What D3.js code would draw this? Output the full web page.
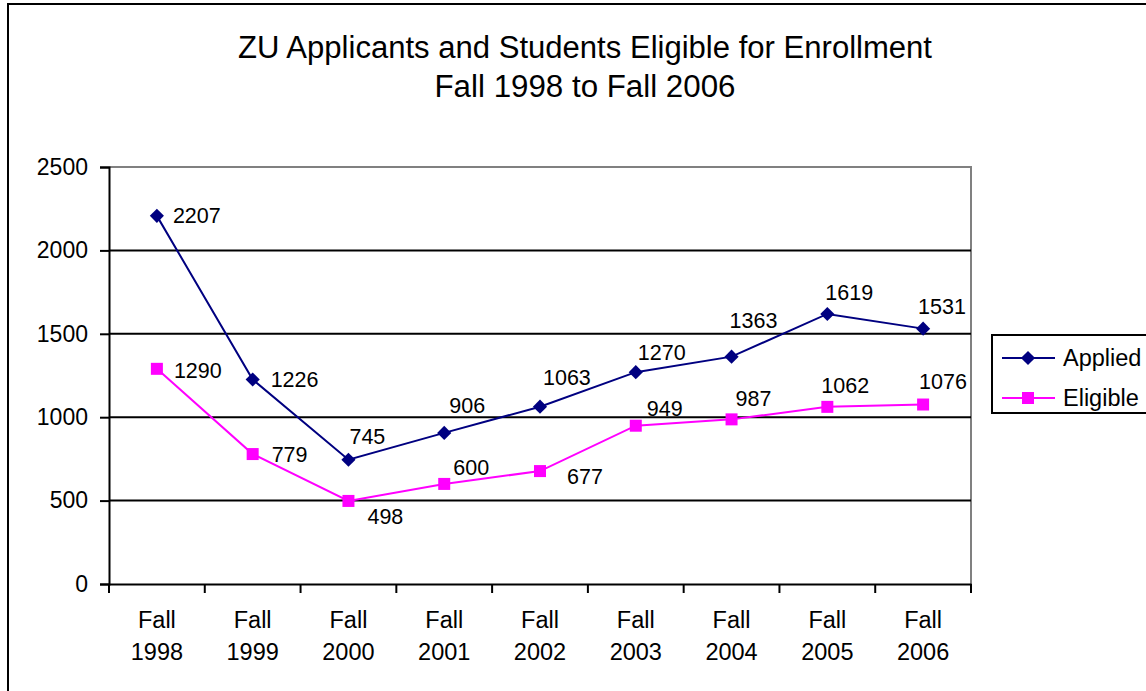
<!DOCTYPE html>
<html>
<head>
<meta charset="utf-8">
<script src="https://cdn.jsdelivr.net/npm/d3@7"></script>
<style>
  body { margin: 0; background: #fff; }
  svg { display: block; font-family: "Liberation Sans", Arial, sans-serif; }
</style>
</head>
<body>
<svg id="chart" width="1146" height="691"></svg>
<script>
// chart data
const categories = ["Fall 1998", "Fall 1999", "Fall 2000", "Fall 2001", "Fall 2002",
                    "Fall 2003", "Fall 2004", "Fall 2005", "Fall 2006"];
const applied = [2207, 1226, 745, 906, 1063, 1270, 1363, 1619, 1531];
const eligible = [1290, 779, 498, 600, 677, 949, 987, 1062, 1076];
const yTicks = [0, 500, 1000, 1500, 2000, 2500];
const seriesNames = ["Applied", "Eligible"];

// where each data label sits relative to its marker (text start, text middle)
const appliedLabelOffsets = [[16, 0], [18, 0], [1, -23], [5, -27], [3, -29], [2, -20], [-2, -36], [-2, -21], [-5, -22]];
const eligibleLabelOffsets = [[17, 2], [19, 0], [19, 16], [9, -16], [27, 5], [11, -17], [4, -21], [-6, -21], [-4, -23]];

const svg = d3.select("#chart");
const plot = {left: 109, right: 971, top: 167, bottom: 584};

// outer frame
svg.append("rect")
    .attr("x", 8).attr("y", 4)
    .attr("width", 1160).attr("height", 700)
    .attr("fill", "none").attr("stroke", "#000").attr("stroke-width", 2);

// title
const title = svg.append("g").attr("font-size", 31).attr("text-anchor", "middle");
title.append("text").attr("x", 585).attr("y", 58)
    .attr("textLength", 694).attr("lengthAdjust", "spacingAndGlyphs")
    .text("ZU Applicants and Students Eligible for Enrollment");
title.append("text").attr("x", 585).attr("y", 97)
    .attr("textLength", 301).attr("lengthAdjust", "spacingAndGlyphs")
    .text("Fall 1998 to Fall 2006");

// scales
const x = d3.scaleBand().domain(categories).range([plot.left, plot.right]).padding(0);
const y = d3.scaleLinear().domain([0, 2500]).range([plot.bottom, plot.top]);
const cx = (d, i) => x(categories[i]) + x.bandwidth() / 2;

// plot area border (grey top/right)
svg.append("path")
    .attr("d", `M${plot.left},${plot.top}H${plot.right}V${plot.bottom}`)
    .attr("fill", "none").attr("stroke", "#808080").attr("stroke-width", 2);

// gridlines
svg.append("g").selectAll("line")
    .data(yTicks.filter(t => t > 0 && t < 2500))
    .join("line")
    .attr("x1", plot.left).attr("x2", plot.right)
    .attr("y1", d => y(d)).attr("y2", d => y(d))
    .attr("stroke", "#000").attr("stroke-width", 2);

// y axis
const yAxis = svg.append("g")
    .attr("transform", `translate(${plot.left},0)`)
    .call(d3.axisLeft(y).tickValues(yTicks).tickSize(9).tickPadding(12).tickFormat(d3.format("d")));
yAxis.select(".domain").attr("stroke", "#000").attr("stroke-width", 2);
yAxis.selectAll(".tick line").attr("stroke", "#000").attr("stroke-width", 2);
yAxis.selectAll(".tick text").attr("font-size", 23).attr("fill", "#000")
    .attr("font-family", "Liberation Sans, Arial, sans-serif");

// x axis
const xAxis = svg.append("g")
    .attr("transform", `translate(0,${plot.bottom})`)
    .call(d3.axisBottom(x).tickSize(0).tickFormat(""));
xAxis.select(".domain").attr("stroke", "#000").attr("stroke-width", 2);
xAxis.selectAll(".tick").remove();
// category boundary ticks
const bounds = categories.map(c => x(c)).concat([plot.right]);
xAxis.selectAll("line.bound").data(bounds).join("line")
    .attr("class", "bound")
    .attr("x1", d => d).attr("x2", d => d)
    .attr("y1", 0).attr("y2", 9)
    .attr("stroke", "#000").attr("stroke-width", 2);
const xl = xAxis.selectAll("text.cat").data(categories).join("text")
    .attr("class", "cat")
    .attr("text-anchor", "middle").attr("font-size", 23.5).attr("fill", "#000")
    .attr("transform", d => `translate(${x(d) + x.bandwidth() / 2},0)`);
xl.append("tspan").attr("x", 0).attr("y", 44).text(d => d.split(" ")[0]);
xl.append("tspan").attr("x", 0).attr("y", 76).text(d => d.split(" ")[1]);

// lines
const line = d3.line().x(cx).y(d => y(d));
svg.append("path").datum(applied)
    .attr("d", line).attr("fill", "none").attr("stroke", "#000080").attr("stroke-width", 2);
svg.append("path").datum(eligible)
    .attr("d", line).attr("fill", "none").attr("stroke", "#FF00FF").attr("stroke-width", 2);

// markers
const diamond = d3.symbol().type(d3.symbolSquare).size(100);
svg.append("g").selectAll("path").data(applied).join("path")
    .attr("d", diamond)
    .attr("transform", (d, i) => `translate(${cx(d, i)},${y(d)}) rotate(45)`)
    .attr("fill", "#000080");
svg.append("g").selectAll("rect").data(eligible).join("rect")
    .attr("x", (d, i) => cx(d, i) - 6).attr("y", d => y(d) - 6)
    .attr("width", 12).attr("height", 12)
    .attr("fill", "#FF00FF");

// data labels
function addLabels(values, offsets) {
    svg.append("g").attr("font-size", 21.5).attr("fill", "#000")
        .selectAll("text").data(values).join("text")
        .attr("x", (d, i) => cx(d, i) + offsets[i][0])
        .attr("y", (d, i) => y(d) + offsets[i][1] + 7.5)
        .text(d => d);
}
addLabels(applied, appliedLabelOffsets);
addLabels(eligible, eligibleLabelOffsets);

// legend
const legend = svg.append("g").attr("font-size", 23.5);
legend.append("rect")
    .attr("x", 992).attr("y", 335).attr("width", 170).attr("height", 78)
    .attr("fill", "#fff").attr("stroke", "#000").attr("stroke-width", 2);
const legendColors = ["#000080", "#FF00FF"];
seriesNames.forEach((name, i) => {
    const ly = 358 + i * 40;
    legend.append("line")
        .attr("x1", 1002).attr("x2", 1055).attr("y1", ly).attr("y2", ly)
        .attr("stroke", legendColors[i]).attr("stroke-width", 2);
    if (i === 0) {
        legend.append("path").attr("d", diamond)
            .attr("transform", `translate(1028,${ly}) rotate(45)`)
            .attr("fill", legendColors[i]);
    } else {
        legend.append("rect").attr("x", 1022).attr("y", ly - 6)
            .attr("width", 12).attr("height", 12).attr("fill", legendColors[i]);
    }
    legend.append("text").attr("x", 1063).attr("y", ly + 8).text(name);
});
</script>
</body>
</html>
